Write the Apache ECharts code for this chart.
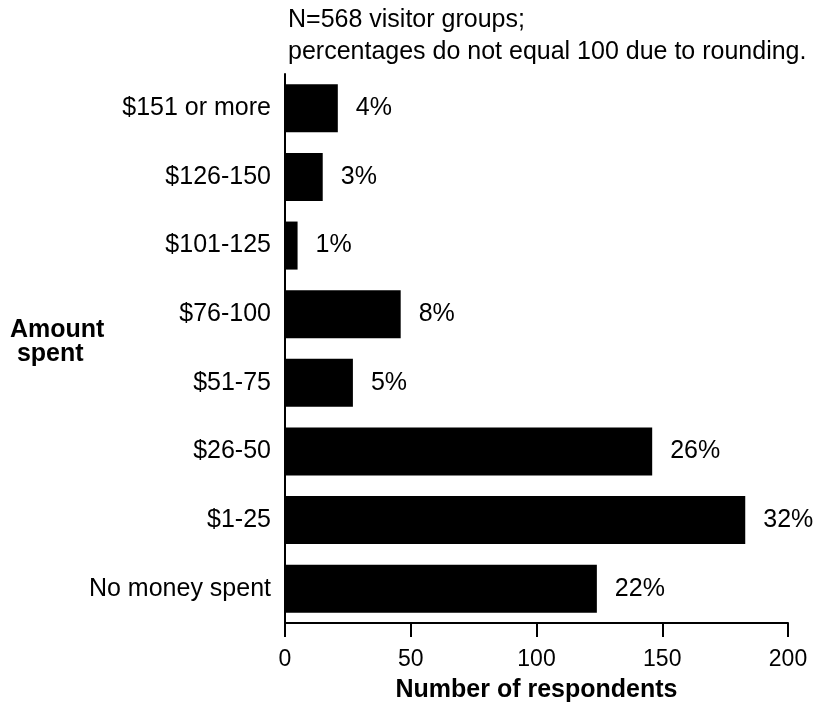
<!DOCTYPE html>
<html>
<head>
<meta charset="utf-8">
<script src="https://cdn.jsdelivr.net/npm/echarts@6/dist/echarts.min.js"></script>
<style>html,body{margin:0;padding:0;background:#fff}#c{width:817px;height:708px}</style>
</head>
<body>
<div id="c"></div>
<script>
var categories = ["No money spent", "$1-25", "$26-50", "$51-75", "$76-100", "$101-125", "$126-150", "$151 or more"];
var respondents = [124, 183, 146, 27, 46, 5, 15, 21];
var percentLabels = ["22%", "32%", "26%", "5%", "8%", "1%", "3%", "4%"];
var xTicks = [0, 50, 100, 150, 200];

var FONT = "'Liberation Sans', Arial, sans-serif";
var chart = echarts.init(document.getElementById('c'), null, {renderer: 'canvas'});
chart.setOption({
  backgroundColor: '#fff',
  animation: false,
  title: {
    text: 'N=568 visitor groups;\npercentages do not equal 100 due to rounding.',
    left: 283, top: -1,
    textStyle: {fontFamily: FONT, fontSize: 25, fontWeight: 'normal', color: '#000', lineHeight: 32}
  },
  graphic: [{
    type: 'text', left: 10, top: 318,
    style: {text: 'Amount\n spent', fontFamily: FONT, fontSize: 25, fontWeight: 'bold', fill: '#000', lineHeight: 24}
  }],
  grid: {left: 285, right: 29, top: 74, bottom: 83, containLabel: false},
  xAxis: {
    type: 'value', min: xTicks[0], max: xTicks[xTicks.length - 1], interval: 50,
    name: 'Number of respondents', nameLocation: 'middle', nameGap: 55,
    nameTextStyle: {fontFamily: FONT, fontSize: 25, fontWeight: 'bold', color: '#000'},
    axisLine: {show: true, lineStyle: {color: '#000', width: 2}},
    axisTick: {show: true, length: 14, lineStyle: {color: '#000', width: 2}},
    axisLabel: {fontFamily: FONT, fontSize: 23, color: '#000', margin: 25},
    splitLine: {show: false}
  },
  yAxis: {
    type: 'category', data: categories,
    axisLine: {show: true, lineStyle: {color: '#000', width: 2}},
    axisTick: {show: false},
    axisLabel: {fontFamily: FONT, fontSize: 25, color: '#000', margin: 14}
  },
  series: [{
    type: 'bar', data: respondents, barCategoryGap: '30%',
    itemStyle: {color: '#000'},
    label: {
      show: true, position: 'right', distance: 18,
      fontFamily: FONT, fontSize: 25, color: '#000',
      formatter: function (p) { return percentLabels[p.dataIndex]; }
    }
  }]
});
</script>
</body>
</html>
